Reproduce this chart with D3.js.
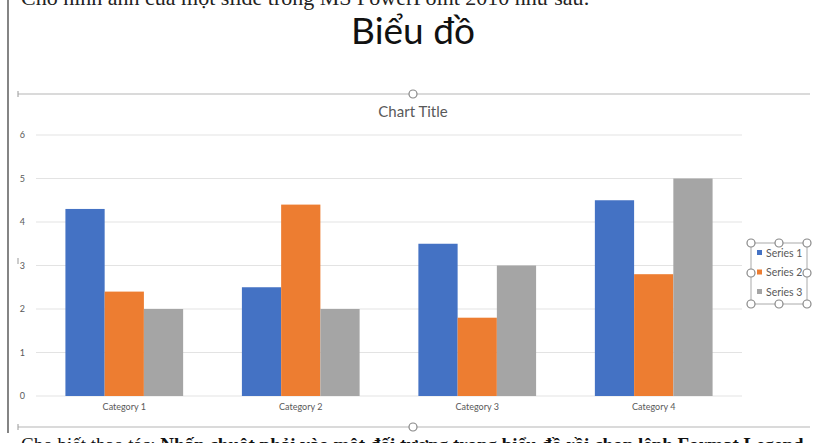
<!DOCTYPE html>
<html>
<head>
<meta charset="utf-8">
<script src="https://cdn.jsdelivr.net/npm/d3@7"></script>
<style>
  body { margin: 0; background: #fff; }
  svg { display: block; }
  .tick text { fill: #595959; font-family: Lato, "Open Sans", sans-serif; }
</style>
</head>
<body>
<script>
// chart data
var categories = ["Category 1", "Category 2", "Category 3", "Category 4"];
var seriesNames = ["Series 1", "Series 2", "Series 3"];
var series1 = [4.3, 2.5, 3.5, 4.5];
var series2 = [2.4, 4.4, 1.8, 2.8];
var series3 = [2, 2, 3, 5];
var yTicks = [0, 1, 2, 3, 4, 5, 6];
var colors = ["#4472C4", "#ED7D31", "#A5A5A5"];

(function(){
  var width = 828, height = 443;
  var svg = d3.select("body").append("svg")
    .attr("width", width)
    .attr("height", height);

  // slide text (cropped by the screenshot edges)
  svg.append("text")
    .attr("x", 21).attr("y", 5)
    .style("font-family", "'Liberation Serif', serif")
    .style("font-size", "22px")
    .style("fill", "#222")
    .text("Cho hình ảnh của một slide trong MS PowerPoint 2010 như sau:");

  svg.append("text")
    .attr("x", 413).attr("y", 44)
    .attr("text-anchor", "middle")
    .style("font-family", "Lato, 'Open Sans', sans-serif")
    .style("font-size", "37px")
    .style("fill", "#111")
    .text("Biểu đồ");

  var bottomText = svg.append("text")
    .attr("x", 21).attr("y", 451)
    .style("font-family", "'Liberation Serif', serif")
    .style("font-size", "19px")
    .style("fill", "#111");
  bottomText.append("tspan").text("Cho biết thao tác: ");
  bottomText.append("tspan").style("font-weight", "bold")
    .text("Nhấn chuột phải vào một đối tượng trong biểu đồ rồi chọn lệnh Format Legend");

  // slide left border
  svg.append("line")
    .attr("x1", 8).attr("x2", 8).attr("y1", 0).attr("y2", 433)
    .attr("stroke", "#333").attr("stroke-width", 1.2);

  // selection frame lines with handles
  [94, 427].forEach(function(yy){
    svg.append("line")
      .attr("x1", 18).attr("x2", 810).attr("y1", yy).attr("y2", yy)
      .attr("stroke", "#b5b5b5").attr("stroke-width", 1.2);
    svg.append("line")
      .attr("x1", 18).attr("x2", 18).attr("y1", yy - 3).attr("y2", yy + 3)
      .attr("stroke", "#999");
    svg.append("circle")
      .attr("cx", 413).attr("cy", yy).attr("r", 4)
      .attr("fill", "#fff").attr("stroke", "#888").attr("stroke-width", 1.2);
  });
  svg.append("line")
    .attr("x1", 18).attr("x2", 18).attr("y1", 258).attr("y2", 264)
    .attr("stroke", "#999");

  // chart title
  svg.append("text")
    .attr("x", 413).attr("y", 117)
    .attr("text-anchor", "middle")
    .style("font-family", "Lato, 'Open Sans', sans-serif")
    .style("font-size", "15px")
    .style("fill", "#595959")
    .text("Chart Title");

  // scales
  var x0 = d3.scaleBand()
    .domain(categories)
    .range([36, 742])
    .paddingInner(0.333)
    .paddingOuter(0.1667);

  var x1 = d3.scaleBand()
    .domain(seriesNames)
    .range([0, x0.bandwidth()]);

  var y = d3.scaleLinear()
    .domain([0, 6])
    .range([396, 135]);

  // gridlines
  svg.append("g")
    .selectAll("line")
    .data(yTicks)
    .enter()
    .append("line")
    .attr("x1", 36).attr("x2", 742)
    .attr("y1", function(d){ return y(d); })
    .attr("y2", function(d){ return y(d); })
    .attr("stroke", "#e3e3e3")
    .attr("stroke-width", 1);

  // y axis labels
  var yAxis = svg.append("g")
    .attr("transform", "translate(25,0)")
    .call(d3.axisLeft(y).tickValues(yTicks).tickFormat(d3.format("d")).tickSize(0).tickPadding(0));
  yAxis.select(".domain").remove();
  yAxis.selectAll("text").style("font-size", "9px");

  // bars
  var rows = categories.map(function(c, i){
    return { cat: c, vals: [series1[i], series2[i], series3[i]] };
  });

  var groups = svg.append("g")
    .selectAll("g")
    .data(rows)
    .enter()
    .append("g")
    .attr("transform", function(d){ return "translate(" + x0(d.cat) + ",0)"; });

  groups.selectAll("rect")
    .data(function(d){
      return d.vals.map(function(v, j){ return { name: seriesNames[j], value: v, color: colors[j] }; });
    })
    .enter()
    .append("rect")
    .attr("x", function(d){ return x1(d.name); })
    .attr("width", x1.bandwidth())
    .attr("y", function(d){ return y(d.value); })
    .attr("height", function(d){ return y(0) - y(d.value); })
    .attr("fill", function(d){ return d.color; });

  // x axis labels
  var xAxis = svg.append("g")
    .attr("transform", "translate(0,404)")
    .call(d3.axisBottom(x0).tickSize(0).tickPadding(0));
  xAxis.select(".domain").remove();
  xAxis.selectAll("text").style("font-size", "9px");

  // legend (selected, with handles)
  svg.append("clipPath").attr("id", "legClip")
    .append("rect").attr("x", 751).attr("y", 240).attr("width", 55).attr("height", 70);

  var legend = svg.append("g");
  legend.append("rect")
    .attr("x", 751).attr("y", 243).attr("width", 56).attr("height", 61)
    .attr("fill", "none").attr("stroke", "#aaa").attr("stroke-width", 1);

  var legItems = legend.append("g").attr("clip-path", "url(#legClip)")
    .selectAll("g")
    .data(seriesNames)
    .enter()
    .append("g")
    .attr("transform", function(d, i){ return "translate(757," + (253 + i * 19.5) + ")"; });

  legItems.append("rect")
    .attr("x", 0).attr("y", -3).attr("width", 5).attr("height", 5)
    .attr("fill", function(d, i){ return colors[i]; });
  legItems.append("text")
    .attr("x", 9).attr("y", 3.5)
    .style("font-family", "Lato, 'Open Sans', sans-serif")
    .style("font-size", "10.5px")
    .style("fill", "#595959")
    .text(function(d){ return d; });

  var handles = [[751,243],[779,243],[807,243],[751,273],[807,273],[751,304],[779,304],[807,304]];
  legend.selectAll("circle")
    .data(handles)
    .enter()
    .append("circle")
    .attr("cx", function(d){ return d[0]; })
    .attr("cy", function(d){ return d[1]; })
    .attr("r", 4)
    .attr("fill", "#fff")
    .attr("stroke", "#888")
    .attr("stroke-width", 1.2);
})();
</script>
</body>
</html>
